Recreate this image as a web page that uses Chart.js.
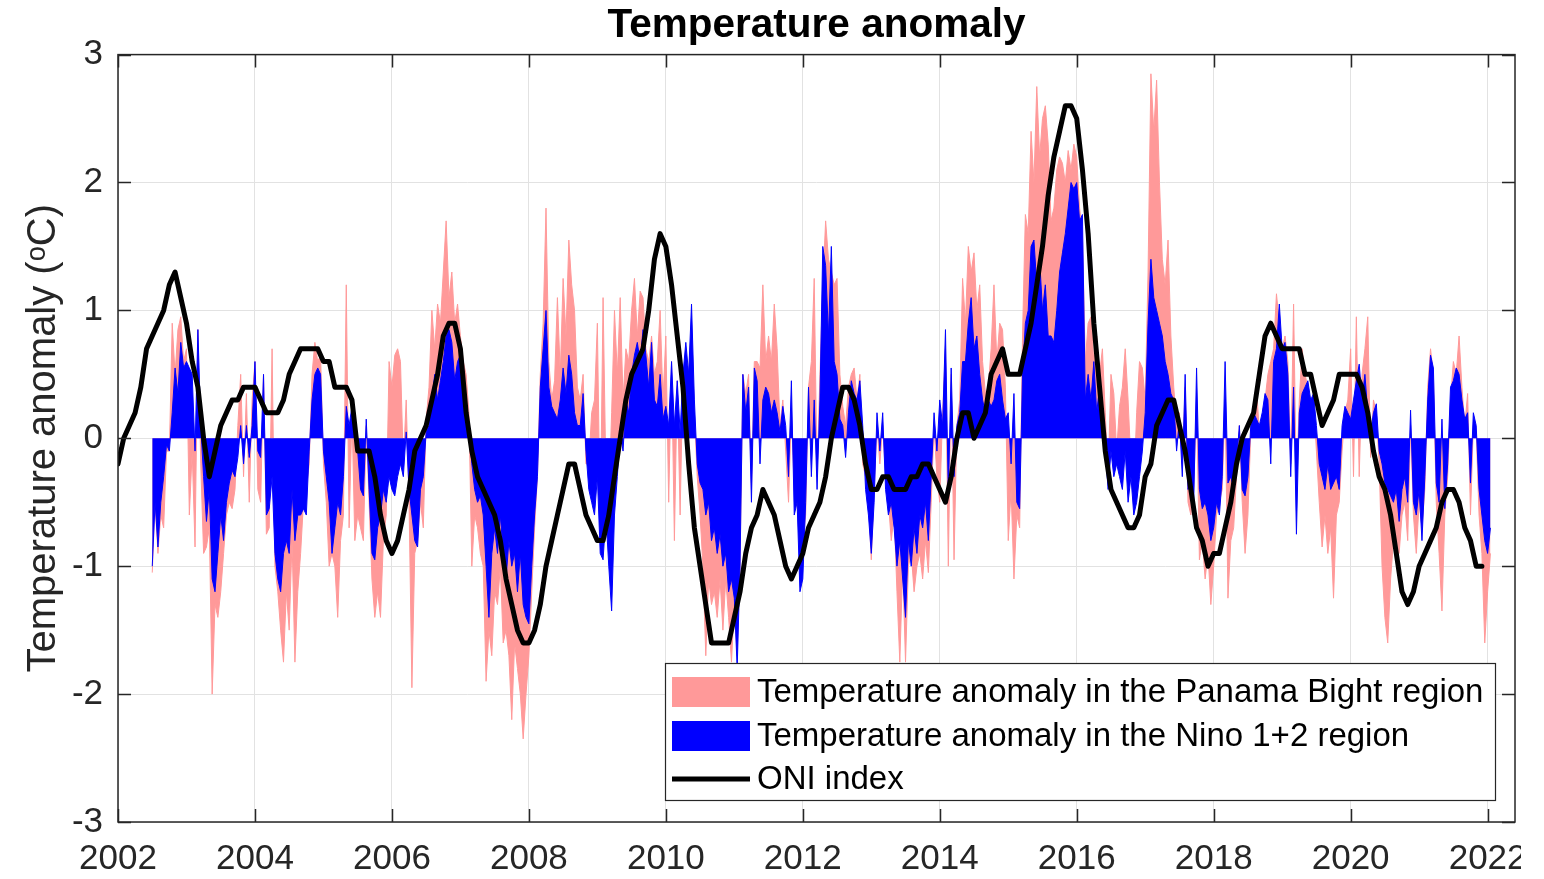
<!DOCTYPE html>
<html>
<head>
<meta charset="utf-8">
<script src="https://cdn.jsdelivr.net/npm/chart.js@4.4.1/dist/chart.umd.min.js"></script>
<style>
html,body{margin:0;padding:0;background:#fff;overflow:hidden}
#wrap{width:1521px;height:879px;overflow:hidden;position:relative;background:#fff}
canvas{display:block}
</style>
</head>
<body>
<div id="wrap"><canvas id="c" width="1544" height="879"></canvas></div>
<script>
// ---- tick labels ----
const xTickValues = [2002, 2004, 2006, 2008, 2010, 2012, 2014, 2016, 2018, 2020, 2022];
const yTickValues = [-3, -2, -1, 0, 1, 2, 3];

// ---- series timing (semi-monthly anomalies, monthly ONI) ----
const anomalyStart = 2002.5;
const anomalyStep = 1 / 24;
const oniStart = 2002;
const oniStep = 1 / 12;

// ---- labels ----
const seriesLabels = [
  'Temperature anomaly in the Panama Bight region',
  'Temperature anomaly in the Nino 1+2 region',
  'ONI index'
];

// Temperature anomaly, Panama Bight region (°C), every half month from 2002.5
const panamaBight = [
  -1.05,-0.5,-0.9,-0.6,-0.7,-0.1,-0.1,0.9,0.5,0.85,0.95,0.6,
  0.7,-0.6,-0.1,-0.85,0.85,-0.2,-0.9,-0.85,-0.7,-2.0,-1.3,-1.4,
  -1.2,-0.9,-0.6,-0.5,-0.55,-0.4,0.1,0.5,-0.3,0.35,-0.5,0.3,
  0.6,-0.4,-0.5,0.5,-0.75,-0.7,0.7,-1.0,-1.2,-1.5,-1.75,-1.2,
  -1.5,-0.8,-1.75,-1.2,-0.9,-0.5,-0.4,-0.2,0.5,0.75,0.6,0.65,
  -0.2,-0.5,-1.0,-0.9,-1.0,-1.4,-0.8,-0.6,1.2,-0.7,0.2,-0.8,
  -0.6,-0.7,-0.8,0.1,-0.5,-1.1,-1.4,-1.2,-1.4,-0.8,-0.6,0.6,
  0.4,0.65,0.7,0.6,-0.2,0.3,-0.5,-1.95,-0.9,-0.8,-0.5,-0.7,
  0.15,0.4,1.0,0.7,1.05,0.9,1.3,1.7,1.1,1.3,0.9,1.05,
  0.8,0.6,0.5,0.2,-1.0,-0.6,-0.7,-0.9,-1.0,-1.9,-1.5,-1.7,
  -1.2,-1.3,-1.0,-1.6,-1.5,-1.7,-2.2,-1.6,-1.8,-2.0,-2.35,-2.0,
  -1.7,-1.2,-0.7,-0.3,0.5,0.9,1.8,0.6,0.3,0.45,1.1,0.5,
  1.25,0.8,1.55,1.2,1.0,0.4,0.3,0.5,-0.2,-0.2,0.2,0.3,
  0.9,-0.7,1.1,-0.3,-0.5,0.2,1.0,0.5,1.1,0.3,0.7,0.6,
  1.0,1.25,0.8,1.15,1.1,0.7,0.6,0.8,0.5,0.6,1.0,0.3,
  0.8,-0.5,0.6,-0.8,0.45,-0.6,0.5,0.4,0.5,0.9,0.2,-0.3,
  -0.6,-1.0,-1.7,-1.1,-1.3,-1.2,-1.4,-1.1,-1.5,-1.1,-1.4,-1.75,
  -1.3,-1.7,-1.0,0.5,0.35,0.5,-0.4,0.6,0.6,0.55,1.2,0.6,
  0.8,0.6,1.05,0.7,0.1,0.3,-0.1,-0.5,0.2,-0.4,-0.5,-0.9,
  -0.8,-0.6,0.4,0.6,1.25,-0.3,0.5,1.2,1.7,1.4,1.3,1.2,
  1.25,0.5,0.25,0.1,0.4,0.5,0.55,0.3,0.5,-0.2,-0.3,-0.5,
  -0.95,-0.4,0.1,-0.2,0.1,-0.3,-0.5,-0.8,-0.6,-1.2,-1.75,-1.0,
  -1.75,-1.0,-0.9,-1.2,-1.0,-0.9,-1.1,-0.8,-1.05,-0.5,0.1,-0.3,
  -0.5,0.2,0.7,-1.0,0.5,-0.95,0.1,0.3,1.25,0.9,1.5,1.3,
  1.45,1.0,1.2,0.6,0.35,0.4,0.7,1.2,0.6,0.9,0.85,0.4,
  -0.8,-0.4,-1.1,-0.6,-0.7,0.8,1.75,1.6,2.4,2.0,2.75,2.2,
  2.5,2.6,2.3,1.7,1.8,2.1,2.2,2.15,2.0,2.25,2.1,2.3,
  2.2,1.8,1.6,0.6,0.9,0.95,0.6,0.8,0.5,0.7,0.2,-0.3,
  0.5,0.35,-0.1,0.25,0.4,0.7,0.3,-0.2,-0.4,0.2,0.6,0.55,
  0.3,1.3,2.85,2.4,2.8,2.0,1.4,1.2,1.55,0.8,0.4,0.1,
  0.2,-0.2,0.4,-0.5,-0.6,-0.4,0.3,-0.95,-0.8,-1.1,-0.9,-1.3,
  -1.0,-0.6,-0.5,-0.4,0.3,-1.25,-0.8,-0.7,-0.3,0.1,-0.5,-0.9,
  -0.6,0.05,0.15,0.4,0.05,0.1,0.3,0.5,0.6,0.7,1.13,0.9,
  0.7,0.8,0.6,-0.2,1.05,-0.4,0.3,0.7,0.5,0.4,0.25,0.3,
  -0.1,-0.5,-0.85,-0.6,-0.9,-0.7,-1.25,-0.6,-0.5,-0.1,0.2,0.3,
  0.7,-0.3,0.95,-0.3,0.5,0.7,0.95,-0.15,0.3,0.2,-0.2,-1.0,
  -1.4,-1.6,-1.1,-0.8,-0.9,-0.9,-0.6,-0.5,-0.8,0.1,-0.6,-0.9,
  -0.5,-0.7,-0.4,0.4,0.7,0.5,-0.5,-0.9,-1.35,-0.6,-0.3,0.3,
  0.6,0.5,0.8,0.4,0.1,0.35,-0.6,0.1,0.05,-0.6,-0.9,-1.6,
  -1.2,-0.9
];

// Temperature anomaly, Nino 1+2 region (°C), every half month from 2002.5
const nino12 = [
  -1.0,-0.5,-0.85,-0.5,-0.3,-0.05,-0.1,0.2,0.55,0.35,0.75,0.55,
  0.6,0.55,0.5,-0.1,0.85,0.1,-0.3,-0.65,-0.4,-1.1,-1.2,-0.9,
  -0.6,-0.8,-0.5,-0.35,-0.25,-0.3,-0.15,0.1,-0.2,0.1,-0.15,0.1,
  0.6,-0.1,-0.15,0.5,-0.6,-0.55,-0.3,-0.9,-1.1,-1.2,-0.9,-0.8,
  -0.9,-0.4,-0.8,-0.6,-0.6,-0.55,-0.6,-0.1,0.3,0.5,0.55,0.5,
  -0.1,-0.3,-0.5,-0.9,-0.7,-0.5,-0.6,-0.3,0.25,0.1,0.25,0.2,
  -0.1,-0.4,-0.45,0.15,-0.4,-0.9,-0.95,-0.7,-0.6,-0.4,-0.5,-0.3,
  -0.4,-0.45,-0.3,-0.2,-0.3,0.05,-0.4,-0.6,-0.8,-0.85,-0.4,-0.3,
  0.05,0.1,0.3,0.5,0.3,0.45,0.6,0.8,0.85,0.75,0.45,0.6,
  0.65,0.4,0.3,0.1,-0.2,-0.4,-0.5,-0.45,-0.6,-1.0,-1.4,-0.9,
  -0.7,-0.9,-0.6,-0.9,-1.1,-0.8,-1.0,-0.9,-1.2,-0.9,-1.3,-1.4,
  -1.45,-1.0,-0.6,-0.3,0.4,0.7,1.0,0.4,0.25,0.2,0.15,0.3,
  0.55,0.35,0.65,0.5,0.2,0.1,0.1,0.35,-0.1,-0.4,-0.5,-0.6,
  -0.3,-0.9,-0.95,-0.6,-1.0,-1.35,-0.6,-0.3,0.05,-0.1,0.3,0.2,
  0.5,0.65,0.75,0.6,0.85,0.65,0.4,0.75,0.3,0.25,0.5,0.15,
  0.25,0.1,0.6,0.1,0.45,0.05,0.5,0.75,0.5,1.05,0.3,-0.2,
  -0.35,-0.4,-0.6,-0.5,-0.8,-0.7,-0.9,-0.75,-1.0,-0.9,-1.2,-1.1,
  -1.25,-1.8,-1.0,0.5,0.2,0.4,-0.5,0.55,0.45,-0.2,0.3,0.4,
  0.35,0.2,0.3,0.2,0.05,0.25,0.1,-0.3,0.45,-0.6,-0.5,-1.2,
  -1.1,-0.5,0.4,-0.3,0.3,-0.4,0.3,1.5,1.35,0.8,1.5,0.6,
  0.5,0.15,0.1,-0.15,0.2,0.45,0.35,0.3,0.45,0.1,-0.4,-0.6,
  -0.9,-0.5,0.2,-0.1,0.2,-0.4,-0.6,-0.5,-0.7,-1.0,-0.8,-1.1,
  -1.4,-0.8,-1.0,-0.7,-0.9,-0.6,-0.7,-0.5,-0.8,-0.3,0.2,-0.1,
  0.3,0.1,0.85,-0.45,0.55,-0.3,0.1,0.2,0.6,0.6,0.9,1.1,
  0.7,0.8,0.5,0.3,0.2,0.3,0.25,0.3,0.45,0.5,0.3,0.15,
  0.2,-0.2,0.35,-0.5,-0.55,0.5,0.9,1.0,1.5,1.55,1.2,1.4,
  1.0,1.2,0.8,0.8,0.75,1.0,1.3,1.45,1.6,1.8,2.0,1.95,
  2.0,1.7,1.75,0.3,0.5,0.3,0.6,0.2,0.4,0.1,-0.1,-0.4,
  -0.1,-0.3,-0.2,-0.3,-0.4,-0.1,-0.5,-0.3,-0.6,-0.5,-0.3,-0.1,
  0.2,0.9,1.4,1.1,1.0,0.9,0.8,0.6,0.5,0.35,0.3,-0.1,
  0.15,-0.3,0.5,-0.4,-0.3,-0.5,0.55,-0.4,-0.55,-0.5,-0.6,-0.8,
  -0.7,-0.5,-0.6,-0.3,0.6,-0.35,-0.3,-0.4,-0.2,0.1,-0.4,-0.45,
  -0.3,0.1,0.2,0.15,0.1,0.2,0.35,0.3,-0.2,0.6,0.7,1.05,
  0.7,0.75,0.5,-0.3,0.4,-0.75,0.2,0.35,0.4,0.45,0.3,0.35,
  0.1,-0.2,-0.3,-0.4,-0.2,-0.4,-0.35,-0.3,-0.4,0.1,0.25,0.2,
  0.15,0.3,0.45,0.58,0.3,0.5,0.2,0.05,0.2,0.27,-0.1,-0.2,
  -0.35,-0.4,-0.45,-0.5,-0.4,-0.65,-0.4,-0.3,-0.5,0.22,-0.5,-0.6,
  -0.4,-0.8,-0.3,0.3,0.65,0.55,-0.35,-0.5,0.15,-0.55,-0.2,0.4,
  0.45,0.55,0.5,0.3,0.15,0.2,-0.35,0.2,0.1,-0.4,-0.6,-0.8,
  -0.9,-0.7
];

// ONI index, monthly 2002-2021
const oni = [
  -0.2,0.0,0.1,0.2,0.4,0.7,0.8,0.9,1.0,1.2,1.3,1.1,
  0.9,0.6,0.4,0.0,-0.3,-0.1,0.1,0.2,0.3,0.3,0.4,0.4,
  0.4,0.3,0.2,0.2,0.2,0.3,0.5,0.6,0.7,0.7,0.7,0.7,
  0.6,0.6,0.4,0.4,0.4,0.3,-0.1,-0.1,-0.1,-0.3,-0.6,-0.8,
  -0.9,-0.8,-0.6,-0.4,-0.1,0.0,0.1,0.3,0.5,0.8,0.9,0.9,
  0.7,0.2,-0.1,-0.3,-0.4,-0.5,-0.6,-0.8,-1.1,-1.3,-1.5,-1.6,
  -1.6,-1.5,-1.3,-1.0,-0.8,-0.6,-0.4,-0.2,-0.2,-0.4,-0.6,-0.7,
  -0.8,-0.8,-0.6,-0.3,0.0,0.3,0.5,0.6,0.7,1.0,1.4,1.6,
  1.5,1.2,0.8,0.4,-0.2,-0.7,-1.0,-1.3,-1.6,-1.6,-1.6,-1.6,
  -1.4,-1.2,-0.9,-0.7,-0.6,-0.4,-0.5,-0.6,-0.8,-1.0,-1.1,-1.0,
  -0.9,-0.7,-0.6,-0.5,-0.3,0.0,0.2,0.4,0.4,0.3,0.1,-0.2,
  -0.4,-0.4,-0.3,-0.3,-0.4,-0.4,-0.4,-0.3,-0.3,-0.2,-0.2,-0.3,
  -0.4,-0.5,-0.3,0.0,0.2,0.2,0.0,0.1,0.2,0.5,0.6,0.7,
  0.5,0.5,0.5,0.7,0.9,1.2,1.5,1.9,2.2,2.4,2.6,2.6,
  2.5,2.1,1.6,0.9,0.4,-0.1,-0.4,-0.5,-0.6,-0.7,-0.7,-0.6,
  -0.3,-0.2,0.1,0.2,0.3,0.3,0.1,-0.1,-0.4,-0.7,-0.8,-1.0,
  -0.9,-0.9,-0.7,-0.5,-0.2,0.0,0.1,0.2,0.5,0.8,0.9,0.8,
  0.7,0.7,0.7,0.7,0.5,0.5,0.3,0.1,0.2,0.3,0.5,0.5,
  0.5,0.5,0.4,0.2,-0.1,-0.3,-0.4,-0.6,-0.9,-1.2,-1.3,-1.2,
  -1.0,-0.9,-0.8,-0.7,-0.5,-0.4,-0.4,-0.5,-0.7,-0.8,-1.0,-1.0
];

const toPoints = (arr, start, step) => arr.map((v, i) => ({ x: start + i * step, y: v }));

const PINK = '#ff9999';
const BLUE = '#0000ff';
const INK = '#262626';
const FONT = '"Liberation Sans", Arial, Helvetica, sans-serif';
Chart.defaults.font.family = FONT;

const framePlugin = {
  id: 'frame',
  afterDatasetsDraw(chart) {
    const { ctx, chartArea: a, scales: { x, y } } = chart;
    ctx.save();
    ctx.strokeStyle = INK;
    ctx.lineWidth = 1.5;
    ctx.strokeRect(a.left, a.top, a.right - a.left, a.bottom - a.top);
    const L = 13;
    ctx.beginPath();
    xTickValues.forEach(v => {
      const px = Math.round(x.getPixelForValue(v)) + 0.5;
      ctx.moveTo(px, a.bottom); ctx.lineTo(px, a.bottom - L);
      ctx.moveTo(px, a.top); ctx.lineTo(px, a.top + L);
    });
    yTickValues.forEach(v => {
      const py = Math.round(y.getPixelForValue(v)) + 0.5;
      ctx.moveTo(a.left, py); ctx.lineTo(a.left + L, py);
      ctx.moveTo(a.right, py); ctx.lineTo(a.right - L, py);
    });
    ctx.stroke();
    ctx.restore();
  },
  afterDraw(chart) {
    const { ctx } = chart;
    const ds = chart.data.datasets;
    const bx = 665, by = 663, bw = 830, bh = 137;
    ctx.save();
    ctx.fillStyle = '#fff';
    ctx.fillRect(bx, by, bw, bh);
    ctx.strokeStyle = INK;
    ctx.lineWidth = 1.2;
    ctx.strokeRect(bx + 0.5, by + 0.5, bw, bh);
    const rows = [692, 736, 779];
    ctx.font = '33px ' + FONT;
    ctx.textBaseline = 'middle';
    ctx.textAlign = 'left';
    ds.forEach((d, i) => {
      const cy = rows[i];
      if (d.fill) {
        ctx.fillStyle = d.backgroundColor;
        ctx.fillRect(672, cy - 15, 78, 30);
      } else {
        ctx.strokeStyle = d.borderColor;
        ctx.lineWidth = 5;
        ctx.beginPath();
        ctx.moveTo(672, cy); ctx.lineTo(750, cy);
        ctx.stroke();
      }
      ctx.fillStyle = '#000';
      ctx.fillText(d.label, 757, cy + 1);
    });
    ctx.restore();
  }
};

new Chart(document.getElementById('c'), {
  type: 'line',
  data: {
    datasets: [
      {
        label: seriesLabels[0],
        data: toPoints(panamaBight, anomalyStart, anomalyStep),
        fill: 'origin',
        backgroundColor: PINK,
        borderColor: PINK,
        borderWidth: 1,
        pointRadius: 0,
        tension: 0,
        order: 2
      },
      {
        label: seriesLabels[1],
        data: toPoints(nino12, anomalyStart, anomalyStep),
        fill: 'origin',
        backgroundColor: BLUE,
        borderColor: BLUE,
        borderWidth: 1,
        pointRadius: 0,
        tension: 0,
        order: 1
      },
      {
        label: seriesLabels[2],
        data: toPoints(oni, oniStart, oniStep),
        fill: false,
        borderColor: '#000000',
        backgroundColor: '#000000',
        borderWidth: 5,
        borderJoinStyle: 'round',
        borderCapStyle: 'round',
        pointRadius: 0,
        tension: 0,
        order: 0
      }
    ]
  },
  options: {
    responsive: false,
    animation: false,
    events: [],
    layout: { padding: { top: 0, right: 29, bottom: 0, left: 0 } },
    plugins: {
      legend: { display: false },
      tooltip: { enabled: false },
      title: {
        display: true,
        text: 'Temperature anomaly',
        color: '#000',
        fullSize: false,
        font: { size: 40.5, weight: 'bold', family: FONT },
        padding: { top: 2, bottom: 4 }
      }
    },
    scales: {
      x: {
        type: 'linear',
        min: 2002,
        max: 2022.4,
        afterBuildTicks: s => { s.ticks = xTickValues.map(v => ({ value: v })); },
        afterFit: s => { s.height = 57; },
        ticks: {
          callback: v => String(v),
          color: INK,
          font: { size: 35 },
          padding: 16,
          maxRotation: 0,
          autoSkip: false
        },
        grid: { color: '#e2e2e2', lineWidth: 1, drawTicks: false },
        border: { display: false }
      },
      y: {
        type: 'linear',
        min: -3,
        max: 3,
        afterBuildTicks: s => { s.ticks = yTickValues.map(v => ({ value: v })); },
        afterFit: s => { s.width = 118; },
        ticks: {
          color: INK,
          font: { size: 35 },
          padding: 15
        },
        grid: { color: '#e2e2e2', lineWidth: 1, drawTicks: false },
        border: { display: false },
        title: {
          display: true,
          text: 'Temperature anomaly (\u1D52C)',
          color: INK,
          font: { size: 40 },
          padding: { top: 20, bottom: 0 }
        }
      }
    }
  },
  plugins: [framePlugin]
});
</script>
</body>
</html>
